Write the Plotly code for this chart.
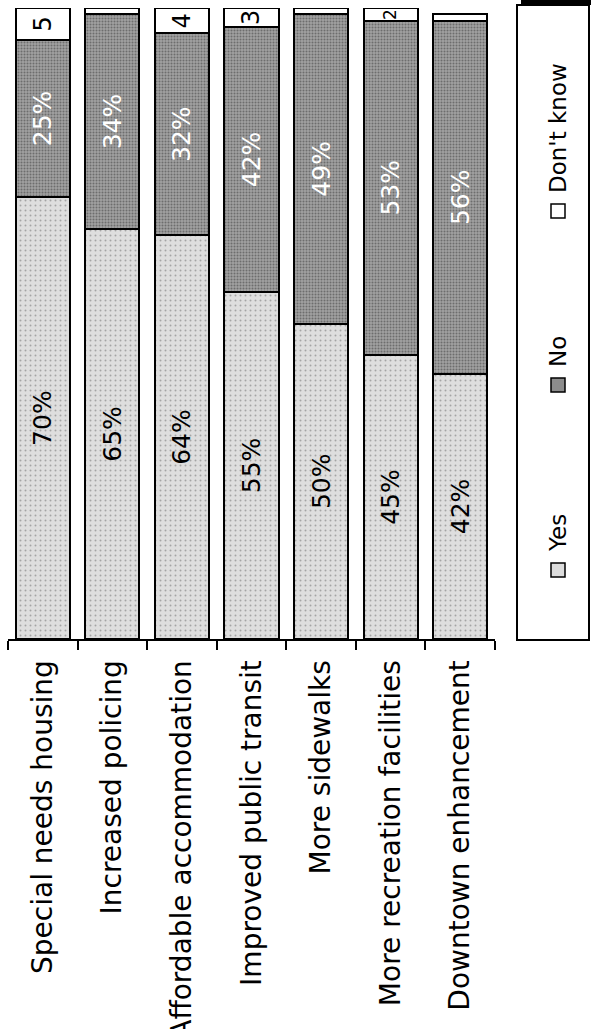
import plotly.graph_objects as go

# Survey results: share of respondents per proposed improvement
categories = [
    "Special needs housing",
    "Increased policing",
    "Affordable accommodation",
    "Improved public transit",
    "More sidewalks",
    "More recreation facilities",
    "Downtown enhancement",
]
yes_pct = [70, 65, 64, 55, 50, 45, 42]
no_pct = [25, 34, 32, 42, 49, 53, 56]
dont_know_pct = [5, 1, 4, 3, 1, 2, 1]
dont_know_labels = ["5", "", "4", "3", "", "2", ""]
legend_names = ["Yes", "No", "Don't know"]

FONT = "DejaVu Sans"
W, H = 591, 1029
# plot area in pixels
L, R, T, B = 8, 495, 8, 639


def px_x(px):
    return (px - L) / (R - L)


def px_y(py):
    return (B - py) / (B - T)


fig = go.Figure()

fig.add_trace(go.Bar(
    name=legend_names[0], x=categories, y=yes_pct,
    text=[f"{v}%" for v in yes_pct],
    textposition="inside", insidetextanchor="middle", textangle=-90,
    textfont=dict(family=FONT, size=25, color="black"),
    marker=dict(
        color="#dcdcdc",
        line=dict(color="black", width=2),
        pattern=dict(shape=".", bgcolor="#dedede", fgcolor="#6a6a6a",
                     size=5, solidity=0.12),
    ),
))
fig.add_trace(go.Bar(
    name=legend_names[1], x=categories, y=no_pct,
    text=[f"{v}%" for v in no_pct],
    textposition="inside", insidetextanchor="middle", textangle=-90,
    textfont=dict(family=FONT, size=25, color="white"),
    marker=dict(
        color="#8c8c8c",
        line=dict(color="black", width=2),
        pattern=dict(shape=".", bgcolor="#a0a0a0", fgcolor="#3a3a3a",
                     size=3, solidity=0.35),
    ),
))
fig.add_trace(go.Bar(
    name=legend_names[2], x=categories, y=dont_know_pct,
    marker=dict(color="white", line=dict(color="black", width=2)),
))

# "Don't know" values written inside their small segments
for cat, y0, y1, d, lab in zip(categories, yes_pct, no_pct, dont_know_pct, dont_know_labels):
    if lab:
        fig.add_annotation(
            x=cat, y=y0 + y1 + d / 2, xref="x", yref="y", text=lab,
            showarrow=False, textangle=-90,
            font=dict(family=FONT, size=24 if d >= 3 else 17, color="black"),
        )

shapes = []
annotations = []

# legend frame on the right
shapes.append(dict(type="rect", xref="paper", yref="paper",
                   x0=px_x(517), x1=px_x(589), y0=px_y(640), y1=px_y(5),
                   line=dict(color="black", width=2), fillcolor="white", layer="below"))
shapes.append(dict(type="rect", xref="paper", yref="paper",
                   x0=px_x(521), x1=px_x(592), y0=px_y(5), y1=px_y(-2),
                   line=dict(width=0), fillcolor="black"))

legend_items = [
    (legend_names[0], "#dcdcdc", 570, 533),
    (legend_names[1], "#8c8c8c", 385, 352),
    (legend_names[2], "white", 211, 128),
]
for name, col, sq_y, txt_y in legend_items:
    shapes.append(dict(type="rect", xref="paper", yref="paper",
                       x0=px_x(551), x1=px_x(565), y0=px_y(sq_y + 7), y1=px_y(sq_y - 7),
                       line=dict(color="black", width=1.5), fillcolor=col))
    annotations.append(dict(xref="paper", yref="paper", x=px_x(558), y=px_y(txt_y),
                            text=name, showarrow=False, textangle=-90,
                            xanchor="center", yanchor="middle",
                            font=dict(family=FONT, size=23, color="black")))

fig.update_layout(
    barmode="stack",
    bargap=0.22,
    width=W, height=H,
    margin=dict(l=L, r=W - R, t=T, b=H - B, pad=0),
    paper_bgcolor="white", plot_bgcolor="white",
    showlegend=False,
    font=dict(family=FONT, color="black"),
    shapes=shapes,
)
for a in annotations:
    fig.add_annotation(**a)

fig.update_xaxes(
    showline=True, linecolor="black", linewidth=2,
    ticks="outside", tickson="boundaries", ticklen=9, tickcolor="black", tickwidth=2,
    tickangle=-90, tickfont=dict(family=FONT, size=28, color="black"),
    ticklabelstandoff=8, automargin=False, showgrid=False,
)
fig.update_yaxes(range=[0, 100], visible=False, showgrid=False, automargin=False)

fig.write_html("out.html")
